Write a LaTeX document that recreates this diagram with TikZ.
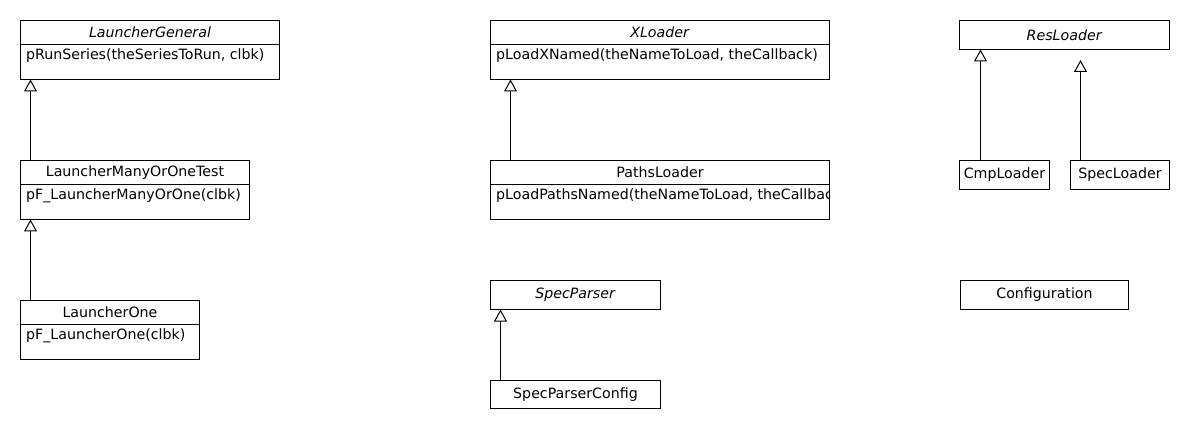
\documentclass[tikz,border=0pt]{standalone}
\usepackage{fontspec}
\setmainfont{DejaVu Sans}
\usetikzlibrary{arrows.meta}

\begin{document}
\begin{tikzpicture}[x=1pt,y=-1pt,
    every node/.style={font=\fontsize{14.2}{17}\selectfont},
    cls/.style={draw,anchor=north west,inner sep=0pt,outer sep=0pt,line width=1pt},
    op/.style={anchor=base west,inner sep=0pt},
    inh/.style={-{Triangle[open,length=12pt,width=13pt]},line width=1pt}]
  \useasboundingbox (0,0) rectangle (1190,430);
    % left column
    \node[cls,minimum width=259,minimum height=24] (lg) at (20.5,20.5) {\textit{LauncherGeneral}};
    \node[cls,minimum width=259,minimum height=35] (lgb) at (lg.south west) {};
    \node[op] (lgop) at (26,59.5) {pRunSeries(theSeriesToRun, clbk)};
    \node[cls,minimum width=229,minimum height=24] (lmo) at (20.5,160.5) {LauncherManyOrOneTest};
    \node[cls,minimum width=229,minimum height=35] (lmob) at (lmo.south west) {};
    \node[op] (lmoop) at (26,199.5) {pF\_LauncherManyOrOne(clbk)};
    \node[cls,minimum width=179,minimum height=24] (lo) at (20.5,300.5) {LauncherOne};
    \node[cls,minimum width=179,minimum height=35] (lob) at (lo.south west) {};
    \node[op] (loop) at (26,339.5) {pF\_LauncherOne(clbk)};
    % middle column
    \node[cls,minimum width=339,minimum height=24] (xl) at (490.5,20.5) {\textit{XLoader}};
    \node[cls,minimum width=339,minimum height=35] (xlb) at (xl.south west) {};
    \node[op] (xlop) at (496,59.5) {pLoadXNamed(theNameToLoad, theCallback)};
    \node[cls,minimum width=339,minimum height=24] (pl) at (490.5,160.5) {PathsLoader};
    \node[cls,minimum width=339,minimum height=35] (plb) at (pl.south west) {};
  \begin{scope}
    \clip (plb.north west) rectangle (plb.south east);
    \node[op] (plop) at (496,199.5) {pLoadPathsNamed(theNameToLoad, theCallback)};
  \end{scope}
    \node[cls,minimum width=170,minimum height=29] (sp) at (490.5,280.5) {\textit{SpecParser}};
    \node[cls,minimum width=170,minimum height=28] (spc) at (490.5,380.5) {SpecParserConfig};
    % right column
    \node[cls,minimum width=210,minimum height=29] (rl) at (959.5,20.5) {\textit{ResLoader}};
    \node[cls,minimum width=90,minimum height=29] (cl) at (959.5,160.5) {CmpLoader};
    \node[cls,minimum width=99,minimum height=29] (sl) at (1070.5,160.5) {SpecLoader};
    \node[cls,minimum width=168,minimum height=29] (cfg) at (960.5,280.5) {Configuration};
    \coordinate (slend) at (1080.5,60);
    % generalisations
    \draw[inh] ([xshift=10pt]lmo.north west) -- ([xshift=10pt]lgb.south west);
    \draw[inh] ([xshift=10pt]lo.north west) -- ([xshift=10pt]lmob.south west);
    \draw[inh] ([xshift=20pt]pl.north west) -- ([xshift=20pt]xlb.south west);
    \draw[inh] ([xshift=10pt]spc.north west) -- ([xshift=10pt]sp.south west);
    \draw[inh] ([xshift=21pt]cl.north west) -- ([xshift=21pt]rl.south west);
    \draw[inh] ([xshift=10pt]sl.north west) -- (slend);
\end{tikzpicture}
\end{document}
